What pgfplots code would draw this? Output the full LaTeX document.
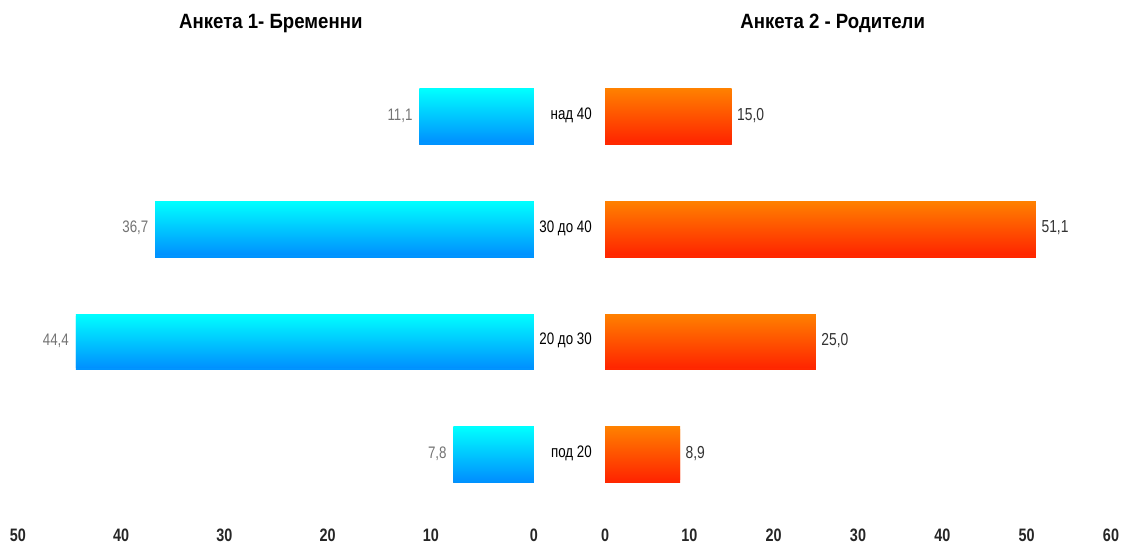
\documentclass[border=0pt]{standalone}
\usepackage{fontspec}
\setmainfont{Liberation Sans}[FakeStretch=0.8]
\newfontfamily\titlefont{Liberation Sans}[FakeStretch=0.9]
\usepackage{pgfplots}
\pgfplotsset{compat=1.18}
\usetikzlibrary{shadows}

\definecolor{cyantop}{RGB}{0,255,255}
\definecolor{cyanbot}{RGB}{0,145,255}
\definecolor{orangetop}{RGB}{255,128,0}
\definecolor{orangebot}{RGB}{255,38,0}
\definecolor{shadowgray}{RGB}{140,140,140}

\pgfplotsset{
  agepanel/.style={
    xbar,
    bar shift=0pt,
    scale only axis,
    height=354.9pt,
    ymin=-0.6, ymax=3.6,
    bar width=0.47,
    axis line style={draw=none},
    major tick length=0pt,
    ytick={0,1,2,3},
    xmin=0,
    /pgf/number format/assume math mode=true,
    xticklabel style={font=\bfseries\fontsize{13.5}{15}\selectfont, text=black!85,
      anchor=center, yshift=-10.5pt},
    title style={font=\titlefont\bfseries\fontsize{15.5}{17}\selectfont,
      anchor=center, yshift=12pt},
    nodes near coords={\pgfmathprintnumber[fixed,fixed zerofill,precision=1,use comma]{\pgfplotspointmeta}},
    clip=false,
  },
  % each bar carries its own vertical gradient and a thin shadow underneath
  cyanbar/.style={draw=none, top color=cyantop, bottom color=cyanbot,
    drop shadow={shadow xshift=0pt, shadow yshift=-2pt, fill=shadowgray, opacity=1}},
  orangebar/.style={draw=none, top color=orangetop, bottom color=orangebot,
    drop shadow={shadow xshift=0pt, shadow yshift=-2pt, fill=shadowgray, opacity=1}},
}

\begin{document}
\begin{tikzpicture}
\useasboundingbox (0,0) rectangle (846.75pt,408.75pt);

% Survey 1: pregnant women (axis mirrored to the left)
\begin{axis}[agepanel,
  at={(13.5pt,18pt)}, anchor=south west,
  width=387pt,
  x dir=reverse, xmax=50,
  xtick={0,10,...,50},
  yticklabels={},
  title={Анкета 1- Бременни},
  title style={at={(0.49,1)}},
  nodes near coords style={anchor=east, inner sep=5pt, text=black!55,
    font=\fontsize{12.5}{14}\selectfont},
]
\addplot[cyanbar] coordinates {(7.8,0)};
\addplot[cyanbar] coordinates {(44.4,1)};
\addplot[cyanbar] coordinates {(36.7,2)};
\addplot[cyanbar] coordinates {(11.1,3)};
\end{axis}

% Survey 2: parents
\begin{axis}[agepanel,
  at={(453.75pt,18pt)}, anchor=south west,
  width=379.5pt,
  xmax=60,
  xtick={0,10,...,60},
  yticklabels={под 20, 20 до 30, 30 до 40, над 40},
  yticklabel style={anchor=east, inner sep=0pt, xshift=-9.75pt,
    font=\fontsize{12.5}{14}\selectfont, text=black},
  title={Анкета 2 - Родители},
  title style={at={(0.45,1)}},
  nodes near coords style={anchor=west, inner sep=4pt, text=black!80,
    font=\fontsize{13}{15}\selectfont},
]
\addplot[orangebar] coordinates {(8.9,0)};
\addplot[orangebar] coordinates {(25.0,1)};
\addplot[orangebar] coordinates {(51.1,2)};
\addplot[orangebar] coordinates {(15.0,3)};
\end{axis}
\end{tikzpicture}
\end{document}
